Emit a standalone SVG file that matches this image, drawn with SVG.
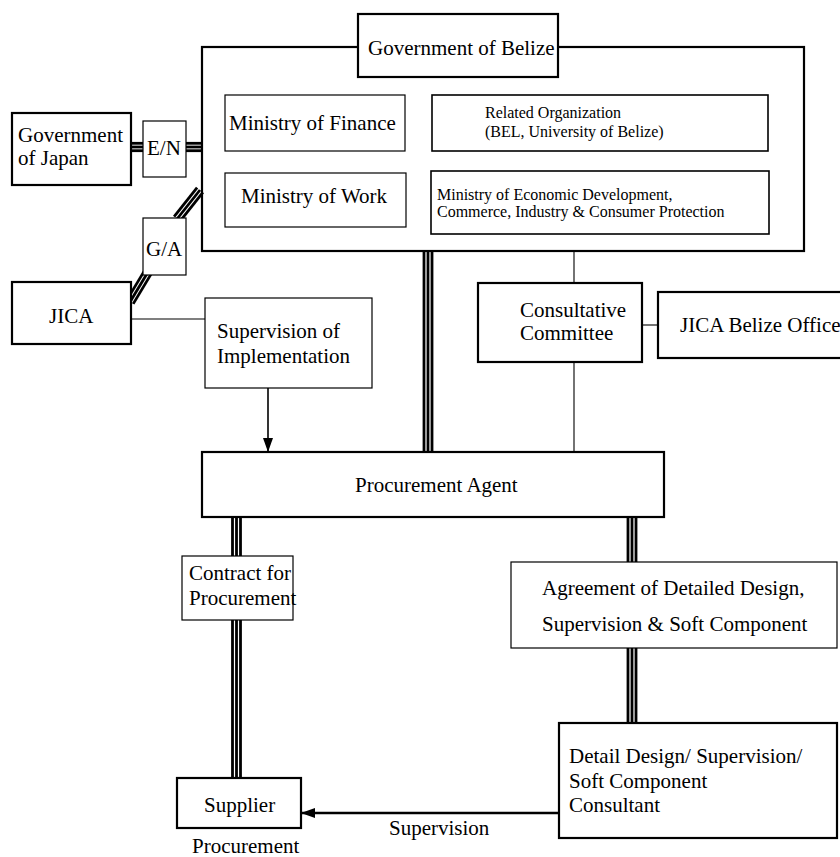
<svg xmlns="http://www.w3.org/2000/svg" width="840" height="857" viewBox="0 0 840 857">
<defs>
<style>
.box{fill:#fff;stroke:#000;stroke-width:1.2}
.bold{fill:#fff;stroke:#000;stroke-width:2.2}
.mid{fill:#fff;stroke:#000;stroke-width:1.6}
.t{font-family:"Liberation Serif","Times New Roman",serif;font-size:21px;fill:#000}
.s{font-family:"Liberation Serif","Times New Roman",serif;font-size:16px;fill:#000}
.ln{stroke:#000;stroke-width:1.1;fill:none}
.tri{stroke:#000;stroke-width:2.8;fill:none}
.arr{stroke:#000;stroke-width:1.6;fill:none;marker-end:url(#ah)}
.arr2{stroke:#000;stroke-width:2.4;fill:none;marker-end:url(#ah)}
</style>
<marker id="ah" viewBox="0 0 14 10" refX="14" refY="5" markerWidth="14" markerHeight="10" markerUnits="userSpaceOnUse" orient="auto">
<path d="M0,0 L14,5 L0,10 z" fill="#000"/>
</marker>
</defs>
<rect width="840" height="857" fill="#fff"/>

<g id="gov-belize-frame">
<rect class="bold" x="202" y="47" width="602" height="204"/>
</g>

<g id="connectors">
<line class="tri" x1="131" y1="143.3" x2="143" y2="143.3"/>
<line class="tri" x1="131" y1="147" x2="143" y2="147"/>
<line class="tri" x1="131" y1="150.7" x2="143" y2="150.7"/>
<line class="tri" x1="186" y1="143.3" x2="203" y2="143.3"/>
<line class="tri" x1="186" y1="147" x2="203" y2="147"/>
<line class="tri" x1="186" y1="150.7" x2="203" y2="150.7"/>
<line class="tri" x1="202.9" y1="192.3" x2="179.9" y2="221.3"/>
<line class="tri" x1="200" y1="190" x2="177" y2="219"/>
<line class="tri" x1="197.1" y1="187.7" x2="174.1" y2="216.7"/>
<line class="tri" x1="151.2" y1="273.9" x2="133.2" y2="303.9"/>
<line class="tri" x1="148" y1="272" x2="130" y2="302"/>
<line class="tri" x1="144.8" y1="270.1" x2="126.8" y2="300.1"/>
<line class="tri" x1="424" y1="251" x2="424" y2="452"/>
<line class="tri" x1="428" y1="251" x2="428" y2="452"/>
<line class="tri" x1="432" y1="251" x2="432" y2="452"/>
<line class="tri" x1="232.5" y1="517" x2="232.5" y2="556"/>
<line class="tri" x1="236.5" y1="517" x2="236.5" y2="556"/>
<line class="tri" x1="240.5" y1="517" x2="240.5" y2="556"/>
<line class="tri" x1="232.5" y1="620" x2="232.5" y2="778"/>
<line class="tri" x1="236.5" y1="620" x2="236.5" y2="778"/>
<line class="tri" x1="240.5" y1="620" x2="240.5" y2="778"/>
<line class="tri" x1="628" y1="517" x2="628" y2="562"/>
<line class="tri" x1="632" y1="517" x2="632" y2="562"/>
<line class="tri" x1="636" y1="517" x2="636" y2="562"/>
<line class="tri" x1="628" y1="648" x2="628" y2="723"/>
<line class="tri" x1="632" y1="648" x2="632" y2="723"/>
<line class="tri" x1="636" y1="648" x2="636" y2="723"/>
<line class="ln" x1="131" y1="319" x2="205" y2="319"/>
<line class="ln" x1="574" y1="251" x2="574" y2="283"/>
<line class="ln" x1="574" y1="362" x2="574" y2="452"/>
<line class="ln" x1="642" y1="325" x2="658" y2="325"/>
<line class="arr" x1="268" y1="388" x2="268" y2="452"/>
<line class="arr2" x1="559" y1="813" x2="301" y2="813"/>
<text class="t" x="389" y="835">Supervision</text>
</g>

<g id="gov-belize-title">
<rect class="bold" x="358" y="14" width="200" height="63"/>
<text class="t" x="368" y="55">Government of Belize</text>
</g>

<g id="ministry-finance">
<rect class="box" x="225" y="95" width="180" height="56"/>
<text class="t" x="229" y="130">Ministry of Finance</text>
</g>

<g id="ministry-work">
<rect class="box" x="225" y="173" width="181" height="54"/>
<text class="t" x="241" y="203">Ministry of Work</text>
</g>

<g id="related-org">
<rect class="mid" x="432" y="95" width="336" height="56"/>
<text class="s" x="485" y="118">Related Organization</text>
<text class="s" x="485" y="137">(BEL, University of Belize)</text>
</g>

<g id="ministry-econ">
<rect class="mid" x="431" y="171" width="338" height="63"/>
<text class="s" x="437" y="200">Ministry of Economic Development,</text>
<text class="s" x="437" y="217">Commerce, Industry &amp; Consumer Protection</text>
</g>

<g id="gov-japan">
<rect class="bold" x="12" y="113" width="119" height="72"/>
<text class="t" x="18" y="142">Government</text>
<text class="t" x="18" y="165">of Japan</text>
</g>

<g id="en">
<rect class="box" x="143" y="121" width="43" height="56"/>
<text class="t" x="147" y="155">E/N</text>
</g>

<g id="ga">
<rect class="box" x="143" y="218" width="43" height="57"/>
<text class="t" x="146" y="256">G/A</text>
</g>

<g id="jica">
<rect class="bold" x="12" y="282" width="119" height="62"/>
<text class="t" x="49" y="323">JICA</text>
</g>

<g id="supervision-implementation">
<rect class="box" x="205" y="298" width="167" height="90"/>
<text class="t" x="217" y="338">Supervision of</text>
<text class="t" x="217" y="363">Implementation</text>
</g>

<g id="consultative-committee">
<rect class="bold" x="478" y="283" width="164" height="79"/>
<text class="t" x="520" y="317">Consultative</text>
<text class="t" x="520" y="340">Committee</text>
</g>

<g id="jica-belize-office">
<rect class="bold" x="658" y="292" width="195" height="66"/>
<text class="t" x="680" y="332">JICA Belize Office</text>
</g>

<g id="procurement-agent">
<rect class="bold" x="202" y="452" width="462" height="65"/>
<text class="t" x="355" y="492">Procurement Agent</text>
</g>

<g id="contract">
<rect class="box" x="182" y="556" width="111" height="64"/>
<text class="t" x="189" y="580">Contract for</text>
<text class="t" x="189" y="605">Procurement</text>
</g>

<g id="agreement">
<rect class="box" x="511" y="562" width="326" height="86"/>
<text class="t" x="542" y="595">Agreement of Detailed Design,</text>
<text class="t" x="542" y="631">Supervision &amp; Soft Component</text>
</g>

<g id="supplier">
<rect class="bold" x="177" y="778" width="124" height="50"/>
<text class="t" x="204" y="812">Supplier</text>
<text class="t" x="192" y="853">Procurement</text>
</g>

<g id="consultant">
<rect class="bold" x="559" y="723" width="278" height="115"/>
<text class="t" x="569" y="763">Detail Design/ Supervision/</text>
<text class="t" x="569" y="788">Soft Component</text>
<text class="t" x="569" y="812">Consultant</text>
</g>
</svg>
